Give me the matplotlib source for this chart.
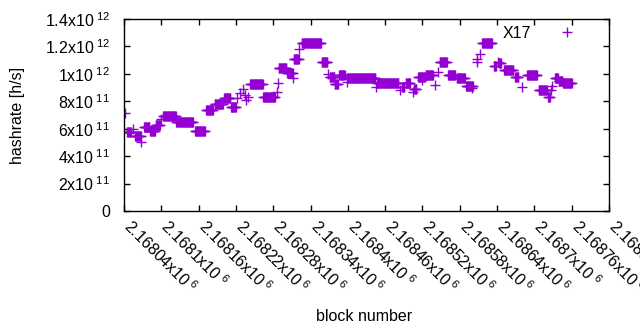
import numpy as np
import matplotlib as mp
import matplotlib.pyplot as plt
from matplotlib.transforms import ScaledTranslation

# runs of blocks sharing the same hashrate estimate (first block, last block, hashrate / 1e11)
run_first = [
    2168042, 2168045, 2168054, 2168058, 2168068, 2168072, 2168082, 2168091, 2168099, 2168103,
    2168124, 2168138, 2168154, 2168172, 2168186, 2168201, 2168212, 2168221, 2168227, 2168232,
    2168235, 2168237, 2168240, 2168243, 2168264, 2168286, 2168288, 2168289, 2168302, 2168312,
    2168313, 2168322, 2168326, 2168358, 2168368, 2168371, 2168379, 2168386, 2168398, 2168399,
    2168445, 2168447, 2168484, 2168487, 2168493, 2168505, 2168506, 2168513, 2168519, 2168525,
    2168540, 2168545, 2168548, 2168561, 2168575, 2168590, 2168599, 2168607, 2168608, 2168612,
    2168616, 2168635, 2168641, 2168643, 2168651, 2168669, 2168680, 2168688, 2168707, 2168722,
    2168726, 2168728, 2168733, 2168739, 2168746,
]
run_last = [
    2168042, 2168051, 2168054, 2168067, 2168068, 2168081, 2168090, 2168098, 2168099, 2168123,
    2168137, 2168151, 2168170, 2168183, 2168199, 2168211, 2168220, 2168221, 2168227, 2168232,
    2168235, 2168237, 2168240, 2168263, 2168283, 2168286, 2168288, 2168301, 2168311, 2168312,
    2168321, 2168322, 2168357, 2168367, 2168368, 2168378, 2168384, 2168395, 2168398, 2168444,
    2168445, 2168481, 2168484, 2168490, 2168500, 2168505, 2168510, 2168524, 2168519, 2168537,
    2168540, 2168545, 2168559, 2168572, 2168588, 2168601, 2168599, 2168607, 2168608, 2168612,
    2168632, 2168638, 2168641, 2168646, 2168666, 2168674, 2168680, 2168704, 2168720, 2168725,
    2168726, 2168728, 2168738, 2168745, 2168760,
]
run_rate = [
    7.14, 5.76, 5.98, 5.49, 5.05, 6.10, 5.85, 6.27, 6.68, 6.95,
    6.50, 6.47, 5.83, 7.36, 7.80, 8.24, 7.56, 8.22, 8.58, 8.87,
    8.46, 8.09, 8.33, 9.26, 8.33, 8.70, 9.31, 10.40, 10.04, 9.67,
    11.06, 11.79, 12.22, 10.84, 9.99, 9.75, 9.26, 9.91, 9.43, 9.67,
    9.06, 9.31, 8.82, 9.06, 9.31, 8.70, 8.87, 9.79, 9.55, 9.91,
    9.18, 10.15, 10.84, 9.91, 9.67, 9.11, 8.94, 11.06, 10.88, 11.45,
    12.22, 10.57, 10.88, 10.77, 10.28, 9.75, 9.02, 9.89, 8.82, 8.33,
    8.82, 9.11, 9.67, 9.45, 9.31,
]

x_ticks = np.arange(2168040, 2168821, 60)
y_ticks = [0, 2e11, 4e11, 6e11, 8e11, 1e12, 1.2e12, 1.4e12]
y_labels = ["0", "2x10", "4x10", "6x10", "8x10", "1x10", "1.2x10", "1.4x10"]
y_exps = ["", "11", "11", "11", "11", "12", "12", "12"]

blocks = np.concatenate([np.arange(a, b + 1) for a, b in zip(run_first, run_last)])
rates = np.concatenate([np.full(b - a + 1, r * 1e11) for a, b, r in zip(run_first, run_last, run_rate)])

mp.rcParams["font.family"] = "Liberation Sans"
mp.rcParams["mathtext.fontset"] = "custom"
mp.rcParams["mathtext.rm"] = "Liberation Sans"
mp.rcParams["mathtext.it"] = "Liberation Sans"
mp.rcParams["font.size"] = 11.5

fig = plt.figure(figsize=(6.4, 3.3), dpi=100)
ax = fig.add_axes([124 / 640, 119 / 330, 485 / 640, 192 / 330])

ax.plot(blocks, rates, linestyle="", marker="+", markersize=6.5, markeredgewidth=1.0,
        color="#9400D3", label="X17")

ax.set_xlim(2168040, 2168820)
ax.set_ylim(0, 1.4e12)

ax.set_yticks(y_ticks)
ax.set_yticklabels([l if not e else l + r"$^{\ " + e + "}$" for l, e in zip(y_labels, y_exps)])

def x_fmt(v):
    s = f"{v / 1e6:.5f}".rstrip("0").rstrip(".")
    return s + r"x10$^{\ 6}$"

ax.set_xticks(x_ticks)
ax.set_xticklabels([x_fmt(v) for v in x_ticks], rotation=-45, ha="left", va="center_baseline",
                   rotation_mode="anchor")

ax.tick_params(direction="in", length=4, width=1, top=True, right=True, colors="black")
ax.tick_params(axis="y", pad=10)
ax.tick_params(axis="x", pad=10)
for s in ax.spines.values():
    s.set_linewidth(1)

# nudge the slanted labels so they start right at their tick (after tick_params, which resets transforms)
shift = ScaledTranslation(4 / 100, 3 / 100, fig.dpi_scale_trans)
for lab in ax.get_xticklabels():
    lab.set_transform(lab.get_transform() + shift)

ax.set_ylabel("hashrate [h/s]")
ax.set_xlabel("block number")
ax.xaxis.set_label_coords((364 - 124) / 485, -(309 - 211) / 192)
ax.yaxis.set_label_coords(-(124 - 25) / 485, 0.5)

ax.legend(loc="upper right", frameon=False, markerfirst=False, handlelength=2.8,
          borderaxespad=0, borderpad=0, bbox_to_anchor=((589 - 124) / 485, 1 - 7 / 192))

fig.savefig("out.png", dpi=100, facecolor="white")
plt.close()
